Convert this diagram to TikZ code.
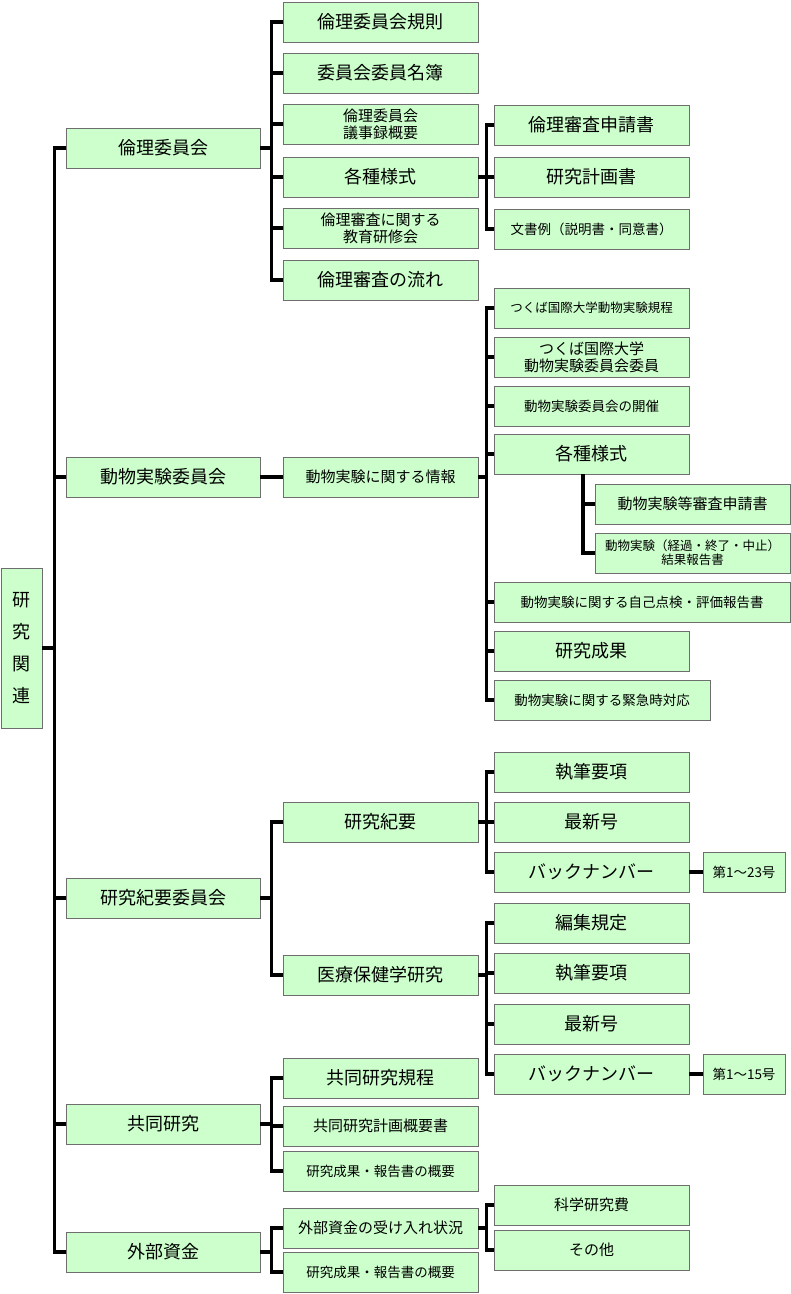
\documentclass[tikz,border=0pt]{standalone}
\usepackage{fontspec}
\setmainfont{Noto Sans CJK JP}
\usepackage{xcolor}
\definecolor{boxgreen}{RGB}{204,255,204}
\definecolor{boxline}{RGB}{110,110,110}
\tikzstyle{box} = [rectangle, minimum height=40pt, inner sep=1pt, text centered, align=center,
fill=boxgreen, draw=boxline, line width=0.8pt, font=\fontsize{18}{20}\selectfont]
\tikzstyle{lbox} = [box, minimum width=194pt]
\tikzstyle{mbox} = [box, minimum width=195pt]
\tikzstyle{two} = [font=\fontsize{15}{17}\selectfont]
\tikzstyle{small} = [font=\fontsize{13.5}{15}\selectfont]
\tikzstyle{link} = [line width=3.5pt]

\begin{document}
\begin{tikzpicture}[x=1pt,y=-1pt]
        \useasboundingbox (0,0) rectangle (791,1294);
        % root
        \draw (21.5,648) node[box, minimum width=41pt, minimum height=160pt,
        font=\fontsize{18}{32}\selectfont] (root) {研\\究\\関\\連};

        % first level
        \draw (163,148) node[lbox] (rin) {倫理委員会};
        \draw (163,477) node[lbox] (dob) {動物実験委員会};
        \draw (163,898) node[lbox] (kiy) {研究紀要委員会};
        \draw (163,1124) node[lbox] (kyo) {共同研究};
        \draw (163,1252) node[lbox] (gai) {外部資金};

        % ethics
        \draw (380.5,22) node[mbox] (rin1) {倫理委員会規則};
        \draw (380.5,73) node[mbox] (rin2) {委員会委員名簿};
        \draw (380.5,124) node[mbox, two] (rin3) {倫理委員会\\議事録概要};
        \draw (380.5,177) node[mbox] (rin4) {各種様式};
        \draw (380.5,228) node[mbox, two] (rin5) {倫理審査に関する\\教育研修会};
        \draw (380.5,280) node[mbox] (rin6) {倫理審査の流れ};
        \draw (591.5,125) node[mbox] (rin4a) {倫理審査申請書};
        \draw (591.5,177) node[mbox] (rin4b) {研究計画書};
        \draw (591.5,229) node[mbox, small] (rin4c) {文書例（説明書・同意書）};

        % animal experiments
        \draw (380.5,477) node[mbox, two] (dob1) {動物実験に関する情報};
        \draw (591.5,308) node[mbox, font=\fontsize{12.5}{14}\selectfont] (dob1a) {つくば国際大学動物実験規程};
        \draw (591.5,357) node[mbox, two] (dob1b) {つくば国際大学\\動物実験委員会委員};
        \draw (591.5,406) node[mbox, small] (dob1c) {動物実験委員会の開催};
        \draw (591.5,454) node[mbox] (dob1d) {各種様式};
        \draw (692.5,504) node[mbox, two] (dob1d1) {動物実験等審査申請書};
        \draw (692.5,553) node[mbox, font=\fontsize{12.5}{14}\selectfont] (dob1d2) {動物実験（経過・終了・中止）\\結果報告書};
        \draw (642,602) node[box, minimum width=296pt, small] (dob1e) {動物実験に関する自己点検・評価報告書};
        \draw (591.5,651) node[mbox] (dob1f) {研究成果};
        \draw (602,700) node[box, minimum width=216pt, small] (dob1g) {動物実験に関する緊急時対応};

        % bulletin
        \draw (380.5,822) node[mbox] (kiy1) {研究紀要};
        \draw (380.5,975) node[mbox] (kiy2) {医療保健学研究};
        \draw (591.5,772) node[mbox] (kiy1a) {執筆要項};
        \draw (591.5,822) node[mbox] (kiy1b) {最新号};
        \draw (591.5,872) node[mbox] (kiy1c) {バックナンバー};
        \draw (744,872) node[box, minimum width=82pt, small] (kiy1d) {第1～23号};
        \draw (591.5,923) node[mbox] (kiy2a) {編集規定};
        \draw (591.5,973) node[mbox] (kiy2b) {執筆要項};
        \draw (591.5,1024) node[mbox] (kiy2c) {最新号};
        \draw (591.5,1074) node[mbox] (kiy2d) {バックナンバー};
        \draw (744,1074) node[box, minimum width=82pt, small] (kiy2e) {第1～15号};

        % joint research
        \draw (380.5,1078) node[mbox] (kyo1) {共同研究規程};
        \draw (380.5,1126) node[mbox, two] (kyo2) {共同研究計画概要書};
        \draw (380.5,1171) node[mbox, small] (kyo3) {研究成果・報告書の概要};

        % external funds
        \draw (380.5,1228) node[mbox, two] (gai1) {外部資金の受け入れ状況};
        \draw (380.5,1272) node[mbox, small] (gai2) {研究成果・報告書の概要};
        \draw (591.5,1205) node[mbox, two] (gai1a) {科学研究費};
        \draw (591.5,1250) node[mbox, two] (gai1b) {その他};

        % Draw links
        \foreach \c in {rin,dob,kiy,kyo,gai}
            \draw[link] (\c.west) -- ++(-11,0) |- (root.east);
        \foreach \c in {rin1,rin2,rin3,rin4,rin5,rin6}
            \draw[link] (\c.west) -- ++(-11,0) |- (rin.east);
        \foreach \c in {rin4a,rin4b,rin4c}
            \draw[link] (\c.west) -- ++(-7,0) |- (rin4.east);
        \draw[link] (dob1.west) -- (dob.east);
        \foreach \c in {dob1a,dob1b,dob1c,dob1d,dob1e,dob1f,dob1g}
            \draw[link] (\c.west) -- ++(-7,0) |- (dob1.east);
        \foreach \c in {dob1d1,dob1d2}
            \draw[link] (\c.west) -| ([xshift=-8.5pt]dob1d.south);
        \foreach \c in {kiy1,kiy2}
            \draw[link] (\c.west) -- ++(-11,0) |- (kiy.east);
        \foreach \c in {kiy1a,kiy1b,kiy1c}
            \draw[link] (\c.west) -- ++(-7,0) |- (kiy1.east);
        \foreach \c in {kiy2a,kiy2b,kiy2c,kiy2d}
            \draw[link] (\c.west) -- ++(-7,0) |- (kiy2.east);
        \draw[link] (kiy1c.east) -- (kiy1d.west);
        \draw[link] (kiy2d.east) -- (kiy2e.west);
        \foreach \c in {kyo1,kyo2,kyo3}
            \draw[link] (\c.west) -- ++(-11,0) |- (kyo.east);
        \foreach \c in {gai1,gai2}
            \draw[link] (\c.west) -- ++(-11,0) |- (gai.east);
        \foreach \c in {gai1a,gai1b}
            \draw[link] (\c.west) -- ++(-7,0) |- (gai1.east);
    \end{tikzpicture}
\end{document}
